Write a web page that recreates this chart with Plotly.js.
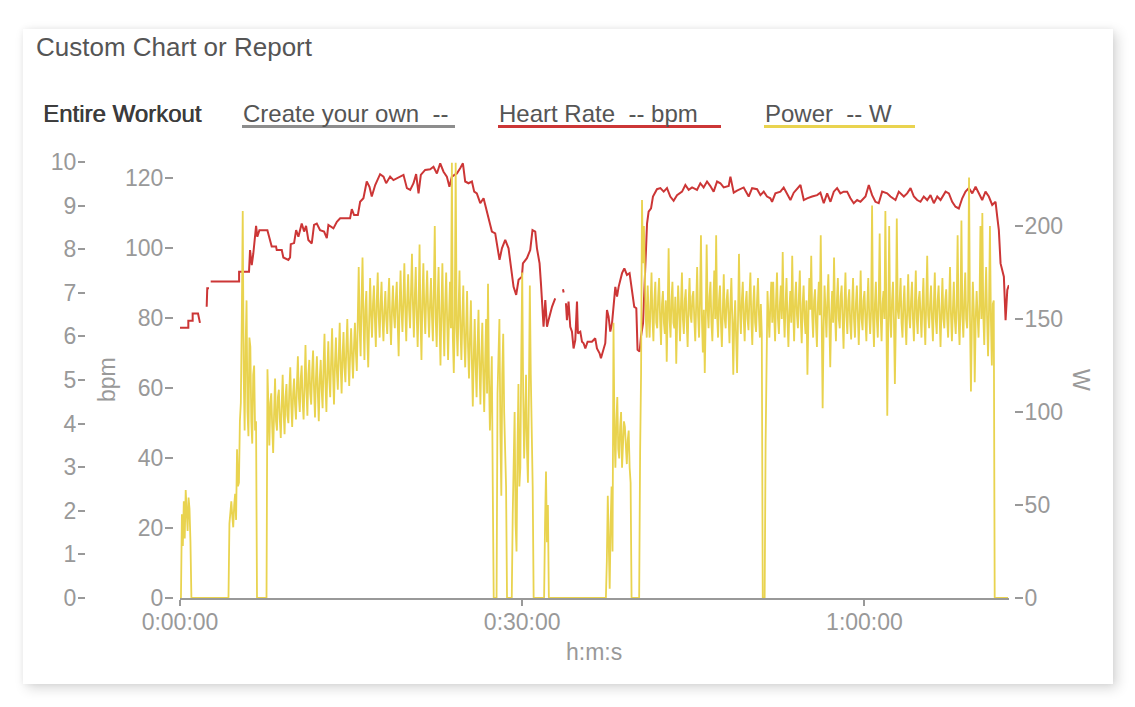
<!DOCTYPE html>
<html><head><meta charset="utf-8">
<script src="https://cdn.plot.ly/plotly-3.0.1.min.js"></script>
<style>
html,body{margin:0;padding:0;background:#fff;width:1135px;height:707px;overflow:hidden;}
#card{position:absolute;left:23px;top:29px;width:1090px;height:655px;background:#fff;box-shadow:4px 4px 12px rgba(0,0,0,0.16),0 0 6px rgba(0,0,0,0.05);}
#chart{position:absolute;left:0;top:0;width:1135px;height:707px;}
</style></head><body>
<div id="card"></div><div id="chart"></div>
<script>
// ---------- texts ----------
const chartTitle = "Custom Chart or Report";
const rangeLabel = "Entire Workout";
const seriesLabels = ["Create your own\u00a0\u00a0--", "Heart Rate\u00a0\u00a0-- bpm", "Power\u00a0\u00a0-- W"];
const xTitle = "h:m:s", hrTitle = "bpm", powerTitle = "W";

// ---------- axes ----------
const xTickVals = [0, 30, 60];
const xTickText = ["0:00:00", "0:30:00", "1:00:00"];
const customTickVals = [0,1,2,3,4,5,6,7,8,9,10];
const hrTickVals = [0,20,40,60,80,100,120];
const powerTickVals = [0,50,100,150,200];

// ---------- heart rate (minutes, bpm), null = gap ----------
const hrMinutes = [
 0,0.73,0.73,1.11,1.11,1.58,1.75,1.76,
 2.34,2.39,2.54,2.6,
 2.69,5.18,5.18,6.05,6.14,6.29,6.43,6.67,6.78,6.96,7.66,7.89,8.04,8.42,8.48,8.92,9.06,9.50,9.65,9.71,
 10.00,10.18,10.38,10.67,10.88,11.05,11.25,11.55,11.75,11.99,12.28,12.63,12.87,13.01,13.45,13.75,14.04,14.91,
 15.06,15.26,15.59,15.79,16.08,16.37,16.61,16.81,17.11,17.54,17.84,18.07,18.42,18.71,19.30,19.59,19.89,
 20.18,20.47,20.70,20.91,21.11,21.49,21.93,22.22,22.52,22.81,23.10,23.39,23.62,23.83,24.27,24.56,24.80,
 25.00,25.29,25.59,25.79,26.02,26.32,26.61,26.90,27.13,27.34,27.63,27.83,28.01,28.22,28.51,28.80,
 29.10,29.24,29.47,29.68,29.97,30.06,30.41,30.70,30.90,31.14,31.29,31.52,31.64,31.73,31.87,32.02,32.17,32.31,32.61,32.89,33.0,
 33.57,33.63,33.7,
 33.83,33.92,34.06,34.21,34.36,34.50,34.65,34.80,34.88,35.09,35.24,35.38,35.53,35.73,36.11,36.40,36.55,36.78,36.90,
 37.13,37.28,37.43,37.57,37.72,37.87,38.16,38.31,38.45,38.75,38.95,39.18,39.41,39.62,39.82,40.00,40.11,40.29,40.41,40.59,40.79,40.94,
 41.08,41.29,41.46,41.58,41.81,42.11,42.40,42.69,42.98,43.27,43.57,44.01,44.30,44.59,44.89,45.32,45.61,45.90,
 46.20,46.49,46.78,47.08,47.37,47.66,48.10,48.25,48.54,48.83,49.12,49.41,49.85,50.15,50.59,50.88,
 51.17,51.46,51.75,51.90,52.19,52.63,52.92,53.22,53.51,53.80,54.10,54.39,54.68,54.97,55.41,55.85,
 56.14,56.43,56.73,57.02,57.31,57.60,57.89,58.18,58.48,58.77,59.06,59.36,59.65,60.09,60.38,60.67,60.96,
 61.25,61.55,61.99,62.28,62.72,63.01,63.45,63.74,64.04,64.33,64.62,64.91,65.20,65.50,65.79,66.08,66.38,66.67,
 67.11,67.40,67.69,67.98,68.27,68.57,68.86,69.15,69.45,69.74,70.03,70.32,70.61,70.90,71.20,71.49,71.64,71.78,
 71.93,72.08,72.22,72.37,72.52,72.66
];
const hrBpm = [
 77.2,77.2,79.2,79.2,81.3,81.3,78.6,null,
 83.2,88.5,88.5,null,
 90.4,90.4,93.2,93.2,99.4,95.1,98.5,106.3,103.2,105.1,105.1,102.3,100.4,100.4,99.4,99.4,97.3,96.6,97.3,101.1,
 101.4,105.1,103.2,107.0,104.7,106.3,102.3,101.3,106.6,107.0,105.1,104.7,102.8,106.6,105.6,107.5,108.5,108.5,
 111.1,109.4,109.4,113.2,114.2,119.0,117.5,114.7,118.0,121.1,120.4,118.5,120.4,119.4,120.4,120.9,117.1,
 116.6,118.5,121.1,115.6,120.9,122.3,122.5,123.2,121.3,124.2,121.8,120.4,117.5,120.4,121.3,122.8,124.2,
 119.0,118.5,119.0,116.1,115.6,112.8,114.2,110.4,107.5,104.7,104.2,99.4,96.6,99.9,102.3,99.9,
 91.8,88.9,86.6,90.9,91.8,95.6,97.1,99.4,105.1,104.7,99.9,95.6,89.9,85.1,77.5,85.1,77.5,79.4,83.2,85.6,null,
 88.2,87.3,null,
 84.2,79.4,84.7,77.5,76.1,71.3,73.7,84.7,75.6,76.1,73.2,72.8,71.3,73.2,73.2,74.2,71.3,69.9,68.5,
 70.9,72.8,82.3,80.4,76.1,78.5,88.9,86.1,88.9,92.8,94.2,92.3,92.8,88.0,83.2,82.8,70.9,70.4,74.7,78.5,93.7,107.0,
 110.4,111.3,114.7,115.6,116.8,117.1,116.1,117.1,114.7,113.5,115.1,116.1,118.0,116.6,117.3,116.6,118.5,117.3,
 119.0,117.7,116.1,119.0,118.5,117.3,117.7,120.4,115.8,116.4,116.8,117.3,114.7,117.1,116.8,115.1,
 116.1,114.7,114.2,113.2,115.6,116.1,117.3,115.6,113.7,115.8,116.8,118.0,113.7,114.2,114.7,115.1,
 115.8,112.8,115.6,113.2,116.1,117.1,115.6,116.1,116.1,114.2,112.8,113.7,113.2,114.7,118.0,115.1,113.2,
 112.8,116.1,115.6,114.7,113.7,116.1,114.7,115.6,117.1,114.7,113.7,113.2,114.7,113.7,115.1,112.8,114.7,113.7,
 116.1,115.6,113.2,111.8,111.3,114.2,116.1,117.1,115.6,117.5,115.6,113.7,116.1,114.7,112.3,113.2,108.9,105.1,
 95.6,93.7,91.8,79.4,88.0,89.4
];

// ---------- power (W), one sample every powerIntervalSec seconds, 12 per minute ----------
const powerIntervalSec = 5;
const powerW = [
 0,0,45,28,52,32,58,40,36,54,48,30,            // 0
 0,0,0,0,0,0,0,0,0,0,0,0,                      // 1
 0,0,0,0,0,0,0,0,0,0,0,0,                      // 2
 0,0,0,0,0,0,0,0,0,0,0,0,                      // 3
 0,0,0,0,40,48,52,44,38,50,56,42,              // 4
 80,60,62,95,105,150,208,120,90,135,160,100,   // 5
 87,140,135,95,83,120,125,90,95,0,0,0,         // 6
 0,0,0,0,0,0,0,0,123,95,82,105,                // 7
 110,92,78,100,118,95,90,108,112,96,86,104,    // 8
 120,100,88,108,115,98,94,112,124,104,92,110,  // 9
 118,104,96,115,130,108,100,118,125,106,96,114,   // 10
 136,112,98,120,128,110,104,122,133,112,97,118,   // 11
 130,110,95,118,128,112,102,125,142,115,100,122,  // 12
 138,118,108,128,145,120,104,126,140,122,112,130, // 13
 148,125,110,130,143,124,116,135,150,128,114,132, // 14
 145,130,118,135,148,132,122,150,178,145,130,160, // 15
 183,150,128,155,165,140,124,150,172,152,140,158, // 16
 168,150,135,160,175,152,140,158,170,150,138,155, // 17
 165,150,142,160,172,150,136,155,168,152,145,160, // 18
 170,148,130,158,176,155,143,160,180,155,138,160, // 19
 174,155,145,165,185,158,140,162,178,152,135,158, // 20
 190,150,128,160,180,155,142,162,176,155,140,158, // 21
 172,152,138,165,200,150,135,160,178,148,125,155, // 22
 180,150,130,158,175,150,128,152,170,145,234,140, // 23
 121,150,234,145,130,155,176,145,128,150,168,140, // 24
 124,145,165,135,118,140,160,128,103,130,150,125, // 25
 108,135,155,125,104,130,148,120,100,128,150,110, // 26
 169,120,90,110,130,60,0,0,0,0,110,140,           // 27
 150,90,55,120,142,100,80,60,0,0,0,0,             // 28
 0,0,45,70,100,40,25,80,115,60,70,130,            // 29
 175,110,75,95,120,80,62,110,168,120,90,60,       // 30
 0,0,0,0,0,0,0,0,0,0,0,0,                         // 31
 40,68,30,50,0,0,0,0,0,0,0,0,                     // 32
 0,0,0,0,0,0,0,0,0,0,0,0,                         // 33
 0,0,0,0,0,0,0,0,0,0,0,0,                         // 34
 0,0,0,0,0,0,0,0,0,0,0,0,                         // 35
 0,0,0,0,0,0,0,0,0,0,0,0,                         // 36
 0,0,0,0,0,20,55,30,5,40,60,25,                   // 37
 148,90,70,95,108,80,75,92,100,70,80,95,          // 38
 92,78,72,85,90,70,62,0,0,0,0,0,                  // 39
 0,0,0,0,78,120,214,180,200,160,150,140,          // 40
 168,152,140,158,175,150,138,160,170,148,145,162, // 41
 172,150,136,158,165,148,142,160,127,155,188,150, // 42
 140,160,170,148,145,162,126,150,168,155,138,158, // 43
 175,150,142,160,166,148,135,158,172,152,148,162, // 44
 165,150,138,158,178,152,140,160,195,150,132,155, // 45
 121,150,190,155,145,162,170,148,138,158,176,150, // 46
 195,152,140,160,168,148,135,155,174,150,145,160, // 47
 166,152,137,158,172,150,120,148,160,140,121,150, // 48
 185,155,142,160,170,150,138,158,165,150,144,162, // 49
 175,150,136,158,168,148,143,160,172,152,140,158, // 50
 142,0,0,0,83,150,165,152,140,158,170,148,        // 51
 170,152,138,160,175,150,142,158,168,150,186,155, // 52
 140,158,172,150,135,155,165,148,184,155,138,160, // 53
 170,152,145,162,176,150,137,158,168,150,142,160, // 54
 120,150,172,155,184,152,140,160,166,148,135,158, // 55
 170,152,195,150,102,145,168,155,140,160,174,150, // 56
 124,152,165,148,183,155,138,160,172,150,145,162, // 57
 168,150,134,158,175,152,142,160,166,148,139,158, // 58
 172,150,140,158,168,152,136,155,176,150,144,160, // 59
 165,150,138,158,172,152,142,155,211,150,135,158, // 60
 170,150,140,160,196,152,138,158,165,150,208,155, // 61
 98,145,200,152,140,160,170,150,115,148,204,155,  // 62
 150,160,172,148,140,158,168,150,136,155,174,152, // 63
 145,160,170,150,138,158,176,150,142,160,165,152, // 64
 140,158,172,150,136,160,184,152,145,158,168,150, // 65
 138,158,175,150,142,160,168,152,135,155,172,150, // 66
 145,160,166,150,140,158,178,152,138,155,170,150, // 67
 142,158,195,150,136,155,203,152,140,160,175,150, // 68
 145,160,226,150,111,148,170,155,116,150,165,152, // 69
 140,158,200,150,207,152,136,160,178,150,130,155, // 70
 200,150,125,158,160,0,0,0,0,0,0,0,               // 71
 0,0,0,0,0,0,0,0                                  // 72
];
const powerMinutes = powerW.map((_, i) => i * powerIntervalSec / 60);

// ---------- style ----------
const W = 1135, H = 707, MT = 162, MB = 109;
const FONT = "Liberation Sans, Arial, Helvetica, sans-serif";
const TICK = {family: FONT, size: 23, color: "#999"};
const RED = "#cc3636", YELLOW = "#e9d34f", GREY = "#8d8d8d";
const px = v => v / W;
const py = v => (H - MB - v) / (H - MT - MB);

const traces = [
  {x: [], y: [], yaxis: "y2", mode: "lines", line: {color: GREY}, hoverinfo: "skip"},
  {x: hrMinutes, y: hrBpm, yaxis: "y", mode: "lines", connectgaps: false,
   line: {color: RED, width: 2}, hoverinfo: "skip"},
  {x: powerMinutes, y: powerW, yaxis: "y3", mode: "lines",
   line: {color: YELLOW, width: 1.8}, hoverinfo: "skip"}
];

const yCommon = {anchor: "free", showgrid: false, zeroline: false, showline: false,
  ticks: "outside", ticklen: 8, tickwidth: 2, tickcolor: "#999", tickfont: TICK,
  ticklabelstandoff: -3, automargin: false, fixedrange: true};

const ann = (text, x, y, o) => Object.assign({text, x: px(x), y: py(y), xref: "paper", yref: "paper",
  showarrow: false, xanchor: "left", yanchor: "middle",
  font: {family: FONT, size: 24, color: "#555"}}, o || {});

const layout = {
  width: W, height: H,
  margin: {l: 0, r: 0, t: MT, b: MB, pad: 0},
  paper_bgcolor: "rgba(0,0,0,0)", plot_bgcolor: "rgba(0,0,0,0)",
  showlegend: false,
  xaxis: {domain: [px(180), px(1009)], range: [0, 72.67], tickvals: xTickVals, ticktext: xTickText,
    showline: true, linecolor: "#999", linewidth: 2, ticks: "outside", ticklen: 6, tickwidth: 2,
    tickcolor: "#999", tickfont: TICK, ticklabelstandoff: -4,
    showgrid: false, zeroline: false, automargin: false, fixedrange: true},
  yaxis: Object.assign({}, yCommon, {range: [0, 124.57], tickvals: hrTickVals, position: px(173)}),
  yaxis2: Object.assign({}, yCommon, {overlaying: "y", range: [0, 10], tickvals: customTickVals, position: px(85), ticklen: 7}),
  yaxis3: Object.assign({}, yCommon, {overlaying: "y", side: "right", range: [0, 234.4], tickvals: powerTickVals, position: px(1014)}),
  annotations: [
    ann(chartTitle, 34, 47, {font: {family: FONT, size: 26, color: "#555"}}),
    ann(rangeLabel, 41, 113, {font: {family: FONT, size: 24, color: "#3c3c3c", shadow: "0.6px 0 0 #3c3c3c"}}),
    ann(seriesLabels[0], 241, 113),
    ann(seriesLabels[1], 497, 113),
    ann(seriesLabels[2], 763, 113),
    ann(hrTitle, 107, 380, {xanchor: "center", textangle: -90, font: {family: FONT, size: 23, color: "#999"}}),
    ann(powerTitle, 1081, 380, {xanchor: "center", textangle: 90, font: {family: FONT, size: 23, color: "#999"}}),
    ann(xTitle, 594, 652, {xanchor: "center", font: {family: FONT, size: 23, color: "#999"}})
  ],
  shapes: [
    {type: "rect", xref: "paper", yref: "paper", x0: px(242), x1: px(455), y0: py(128), y1: py(125), fillcolor: GREY, line: {width: 0}},
    {type: "rect", xref: "paper", yref: "paper", x0: px(498), x1: px(721), y0: py(128), y1: py(125), fillcolor: RED, line: {width: 0}},
    {type: "rect", xref: "paper", yref: "paper", x0: px(764), x1: px(915), y0: py(128), y1: py(125), fillcolor: YELLOW, line: {width: 0}}
  ]
};

Plotly.newPlot("chart", traces, layout, {staticPlot: true, displayModeBar: false});
</script>
</body></html>
